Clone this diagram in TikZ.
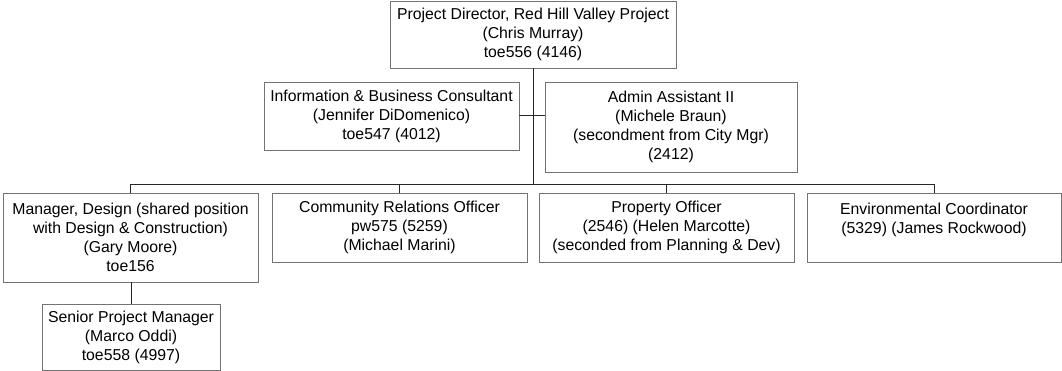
\documentclass[tikz,border=0pt]{standalone}
\usepackage{fontspec}
\setmainfont{Liberation Sans}
\begin{document}
\begin{tikzpicture}[x=1pt,y=-1pt,
  box/.style={draw=black!55, line width=0.9pt, fill=white, inner sep=0pt, align=center,
    font=\fontsize{15.8}{19}\selectfont},
  conn/.style={draw=black!85, line width=1pt}]
\useasboundingbox (0,0) rectangle (1062,371);
\node[box, minimum width=286pt, minimum height=67pt] (top) at (533,34.5)
  {Project Director, Red Hill Valley Project\\(Chris Murray)\\toe556 (4146)};
\node[box, minimum width=255pt, minimum height=68pt] (info) at (391.5,116)
  {Information \& Business Consultant\\(Jennifer DiDomenico)\\toe547 (4012)};
\node[box, minimum width=252pt, minimum height=90pt] (admin) at (671,127)
  {Admin Assistant II\\(Michele Braun)\\(secondment from City Mgr)\\(2412)};
\node[box, minimum width=255pt, minimum height=89pt] (mgr) at (130.5,237.5)
  {Manager, Design (shared position\\with Design \& Construction)\\(Gary Moore)\\toe156};
\node[box, minimum width=255pt, minimum height=69pt] (comm) at (399.5,227.5)
  {Community Relations Officer\\pw575 (5259)\\(Michael Marini)};
\node[box, minimum width=255pt, minimum height=69pt] (prop) at (666.5,227.5)
  {Property Officer\\(2546) (Helen Marcotte)\\(seconded from Planning \& Dev)};
\node[box, minimum width=254pt, minimum height=69pt] (env) at (934,227.5)
  {Environmental Coordinator\\(5329) (James Rockwood)\\\mbox{}};
\node[box, minimum width=178pt, minimum height=66pt] (senior) at (131,337.5)
  {Senior Project Manager\\(Marco Oddi)\\toe558 (4997)};
\coordinate (bus) at (0,185);
\draw[conn] (top.south) -- (top.south |- bus);
\draw[conn] (info.east) -- (admin.west |- info.east);
\draw[conn] (mgr.north) -- (mgr.north |- bus) -- (env.north |- bus) -- (env.north);
\draw[conn] (comm.north) -- (comm.north |- bus);
\draw[conn] (prop.north) -- (prop.north |- bus);
\draw[conn] (mgr.south) -- (mgr.south -| senior.north) -- (senior.north);
\end{tikzpicture}
\end{document}
